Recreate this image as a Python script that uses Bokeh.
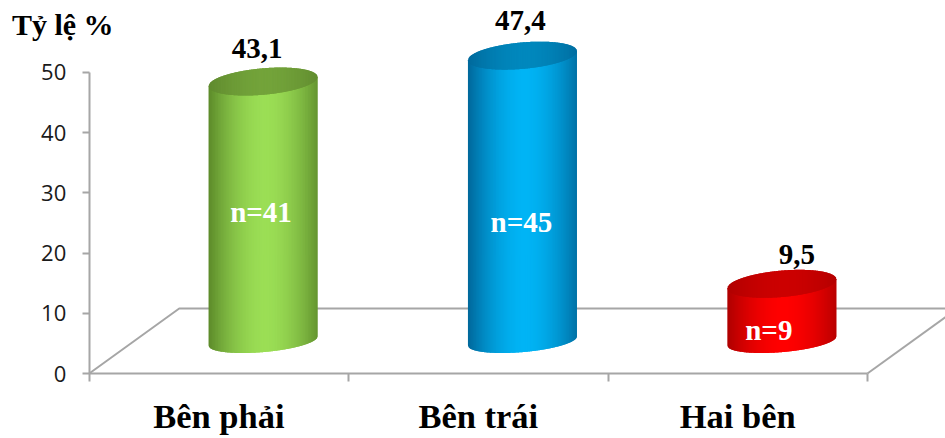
from bokeh.plotting import figure
from bokeh.embed import file_html
from bokeh.resources import INLINE
from bokeh.models import FixedTicker
from bokeh.core.properties import value
import numpy as np

categories = ["Bên phải", "Bên trái", "Hai bên"]
percent = [43.1, 47.4, 9.5]
percent_labels = ["43,1", "47,4", "9,5"]
count_labels = ["n=41", "n=45", "n=9"]
y_ticks = [0, 10, 20, 30, 40, 50]

# (edge, centre) colours of each cylinder wall and of its lid
wall_colors = [("#5c8a2a", "#9bde55"), ("#00679a", "#00b4f5"), ("#ae0000", "#ff0000")]
lid_colors = [("#5f8a2e", "#73a33a"), ("#00699c", "#0088bd"), ("#b00000", "#cc0000")]

# pseudo-3D floor and cylinder geometry, in axis units
DEPTH_X, DEPTH_Y = 0.347, 10.8
BAR_SHIFT = 0.17
RADIUS = 0.21
LID_B, BASE_B = 2.2, 1.85
SHEAR = 3.6
SLICES = 70

SERIF = "Liberation Serif"
GREY = "#a6a6a6"


def hex_rgb(c):
    return np.array([int(c[i:i + 2], 16) for i in (1, 3, 5)], dtype=float)


def shade(edge, centre, t):
    # t runs -1..1 across the cylinder; the highlight sits near the middle
    k = 1 - min(1.0, abs(t - 0.04) / 1.04) ** 1.8
    rgb = hex_rgb(edge) * (1 - k) + hex_rgb(centre) * k
    return "#%02x%02x%02x" % tuple(int(round(v)) for v in rgb)


# the plot area fills the whole page, so both axes sit at fixed locations inside it
p = figure(width=945, height=438, output_backend="svg", toolbar_location=None,
           x_range=(-0.342, 3.301), y_range=(-10.797, 61.96),
           min_border_left=0, min_border_right=0, min_border_top=0, min_border_bottom=0,
           background_fill_color="white", border_fill_color="white")
p.outline_line_color = None
p.grid.visible = False

p.yaxis.fixed_location = 0
p.yaxis.ticker = FixedTicker(ticks=y_ticks)
p.yaxis.bounds = (0, 50)
p.yaxis.axis_line_color = GREY
p.yaxis.axis_line_width = 2
p.yaxis.major_tick_in = 0
p.yaxis.major_tick_out = 7
p.yaxis.major_tick_line_color = GREY
p.yaxis.major_tick_line_width = 2
p.yaxis.minor_tick_line_color = None
p.yaxis.major_label_standoff = 16
p.yaxis.major_label_text_font = "Open Sans"
p.yaxis.major_label_text_font_size = "22px"
p.yaxis.major_label_text_color = "#1a1a1a"

p.xaxis.fixed_location = 0
p.xaxis.ticker = FixedTicker(ticks=[0.5, 1.5, 2.5], minor_ticks=[0, 1, 2, 3])
p.xaxis.major_label_overrides = {i + 0.5: c for i, c in enumerate(categories)}
p.xaxis.bounds = (0, 3)
p.xaxis.axis_line_color = GREY
p.xaxis.axis_line_width = 2
p.xaxis.major_tick_line_color = None
p.xaxis.major_tick_in = 0
p.xaxis.major_tick_out = 8
p.xaxis.minor_tick_line_color = GREY
p.xaxis.minor_tick_line_width = 2
p.xaxis.minor_tick_in = 0
p.xaxis.minor_tick_out = 8
p.xaxis.major_label_standoff = 15
p.xaxis.major_label_text_font = SERIF
p.xaxis.major_label_text_font_style = "bold"
p.xaxis.major_label_text_font_size = "34.5px"
p.xaxis.major_label_text_color = "#000000"

# floor of the 3D box: back edge and the two receding side edges
p.line([0, DEPTH_X, 3.4], [0, DEPTH_Y, DEPTH_Y], line_color=GREY, line_width=2)
p.line([3, 3 + DEPTH_X], [0, DEPTH_Y], line_color=GREY, line_width=2)

# cylinders, each built from thin overlapping vertical slices to carry the shading
for i, v in enumerate(percent):
    cx = i + 0.5 + BAR_SHIFT
    base = DEPTH_Y / 2
    edges = np.linspace(-1, 1, SLICES + 1)
    step = edges[1] - edges[0]
    wall_xs, wall_ys, wall_fill, lid_xs, lid_ys, lid_fill = [], [], [], [], [], []
    for a in edges[:-1]:
        u = np.linspace(a, min(1.0, a + 2 * step), 6)
        xs = cx + RADIUS * u
        arc = np.sqrt(np.clip(1 - u ** 2, 0, 1))
        tilt = SHEAR * RADIUS * u
        top_mid = base + v + tilt
        wall_xs.append(np.r_[xs, xs[::-1]])
        wall_ys.append(np.r_[base + tilt - BASE_B * arc, top_mid[::-1]])
        wall_fill.append(shade(*wall_colors[i], a + step / 2))
        lid_xs.append(np.r_[xs, xs[::-1]])
        lid_ys.append(np.r_[top_mid - LID_B * arc, (top_mid + LID_B * arc)[::-1]])
        lid_fill.append(shade(*lid_colors[i], a + step / 2))
    p.patches(wall_xs, wall_ys, fill_color=wall_fill, line_color=None)
    p.patches(lid_xs, lid_ys, fill_color=lid_fill, line_color=None)

# value labels above the cylinders and counts on their walls
value_dx = [-6, -2, 15]
value_dy = [-10, -12, -7]
count_dx = [-2, -1, -13]
count_y = [26.9, 25.1, 7.2]
for i, v in enumerate(percent):
    cx = i + 0.5 + BAR_SHIFT
    top = v + DEPTH_Y / 2 + LID_B
    p.text([cx], [top], text=[percent_labels[i]], text_font=value(SERIF), text_font_style="bold",
           text_font_size="29px", text_color="#000000", text_align="center", text_baseline="bottom",
           x_offset=value_dx[i], y_offset=value_dy[i])
    p.text([cx], [count_y[i]], text=[count_labels[i]], text_font=value(SERIF), text_font_style="bold",
           text_font_size="29px", text_color="#ffffff", text_align="center", text_baseline="middle",
           x_offset=count_dx[i])

p.text([-0.298], [57.9], text=["Tỷ lệ %"], text_font=value(SERIF), text_font_style="bold",
       text_font_size="30px", text_color="#000000", text_align="left", text_baseline="middle")

open("out.html", "w").write(file_html(p, INLINE))
